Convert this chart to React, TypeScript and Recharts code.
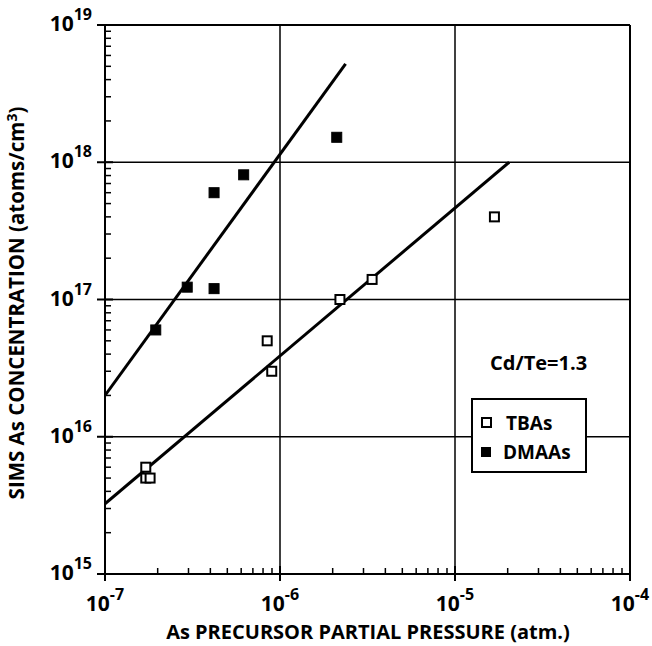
import React from 'react';
import { ComposedChart, Scatter, XAxis, YAxis, ReferenceLine, Legend, Customized } from 'recharts';

// TBAs measurements (open squares)
const tbasPressure = [1.71e-7, 1.71e-7, 1.81e-7, 8.45e-7, 8.97e-7, 2.2e-6, 3.36e-6, 1.68e-5];
const tbasConc = [6.0e15, 5.0e15, 5.0e15, 5.0e16, 3.0e16, 1.0e17, 1.4e17, 4.0e17];

// DMAAs measurements (filled squares)
const dmaasPressure = [1.95e-7, 2.95e-7, 4.2e-7, 4.2e-7, 6.2e-7, 2.11e-6];
const dmaasConc = [6.0e16, 1.23e17, 1.2e17, 6.0e17, 8.1e17, 1.52e18];

// fitted lines (end points)
const tbasFitPressure = [1e-7, 2.04e-5];
const tbasFitConc = [3.25e15, 1.0e18];
const dmaasFitPressure = [1e-7, 2.37e-6];
const dmaasFitConc = [2.0e16, 5.2e18];

// axis ticks
const xDecades = [-7, -6, -5, -4];
const yDecades = [15, 16, 17, 18, 19];
const minorMultipliers = [2, 3, 4, 5, 6, 7, 8, 9];

const FONT = "'Open Sans', 'DejaVu Sans', sans-serif";

const zip = (xs: number[], ys: number[]) => xs.map((p, i) => ({ p, c: ys[i] }));
const tbasData = zip(tbasPressure, tbasConc);
const dmaasData = zip(dmaasPressure, dmaasConc);
const tbasFit = zip(tbasFitPressure, tbasFitConc);
const dmaasFit = zip(dmaasFitPressure, dmaasFitConc);

const buildTicks = (decades: number[]) => {
  const out: number[] = [];
  decades.forEach((d, i) => {
    out.push(Math.pow(10, d));
    if (i < decades.length - 1) minorMultipliers.forEach((m) => out.push(m * Math.pow(10, d)));
  });
  return out;
};
const xTicks = buildTicks(xDecades);
const yTicks = buildTicks(yDecades);

const isMajor = (v: number) => {
  const l = Math.log10(v);
  return Math.abs(l - Math.round(l)) < 1e-6;
};

const XTick = (props: any) => {
  const { x, y, payload } = props;
  const v = payload.value;
  if (isMajor(v)) {
    const e = Math.round(Math.log10(v));
    return (
      <g>
        <line x1={x} y1={y - 8} x2={x} y2={y + 7} stroke="#000" strokeWidth={2} />
        <text x={x} y={y + 37} textAnchor="middle" fontFamily={FONT} fontWeight={700} fontSize={21} fill="#000">
          <tspan>10</tspan>
          <tspan dy={-11} fontSize={16}>{e}</tspan>
        </text>
      </g>
    );
  }
  return <line x1={x} y1={y} x2={x} y2={y - 6} stroke="#000" strokeWidth={1.5} />;
};

const YTick = (props: any) => {
  const { x, y, payload } = props;
  const v = payload.value;
  if (isMajor(v)) {
    const e = Math.round(Math.log10(v));
    return (
      <g>
        <line x1={x - 8} y1={y} x2={x + 8} y2={y} stroke="#000" strokeWidth={2} />
        <text x={x - 13} y={y + 6} textAnchor="end" fontFamily={FONT} fontWeight={700} fontSize={21} fill="#000">
          <tspan>10</tspan>
          <tspan dy={-11} fontSize={16}>{e}</tspan>
        </text>
      </g>
    );
  }
  return <line x1={x} y1={y} x2={x + 6} y2={y} stroke="#000" strokeWidth={1.5} />;
};

const OpenSquare = (props: any) => {
  const { cx, cy } = props;
  if (cx == null || cy == null) return <g />;
  return <rect x={cx - 4.5} y={cy - 4.5} width={9} height={9} fill="#fff" stroke="#000" strokeWidth={2} />;
};
const FilledSquare = (props: any) => {
  const { cx, cy } = props;
  if (cx == null || cy == null) return <g />;
  return <rect x={cx - 5} y={cy - 5} width={10} height={10} fill="#000" stroke="#000" strokeWidth={1} />;
};
const NoShape = () => <g />;

const LegendBox = () => (
  <div
    style={{
      width: 116,
      height: 75,
      boxSizing: 'border-box',
      border: '2px solid #000',
      background: '#fff',
      fontFamily: FONT,
      fontWeight: 700,
      fontSize: 19,
      color: '#000',
      paddingTop: 8,
      paddingLeft: 8,
      lineHeight: '28px',
    }}
  >
    <div style={{ display: 'flex', alignItems: 'center', height: 29 }}>
      <span style={{ display: 'inline-block', width: 7, height: 7, border: '2px solid #000', background: '#fff', marginRight: 14 }} />
      <span>TBAs</span>
    </div>
    <div style={{ display: 'flex', alignItems: 'center', height: 29 }}>
      <span style={{ display: 'inline-block', width: 10, height: 10, background: '#000', marginRight: 12 }} />
      <span>DMAAs</span>
    </div>
  </div>
);

const Titles = () => (
  <g>
    <text x={368} y={639} textAnchor="middle" fontFamily={FONT} fontWeight={700} fontSize={20} fill="#000">
      As PRECURSOR PARTIAL PRESSURE (atm.)
    </text>
    <text transform="translate(24,303) rotate(-90)" textAnchor="middle" fontFamily={FONT} fontWeight={700} fontSize={20.5} fill="#000">
      <tspan>SIMS As CONCENTRATION (atoms/cm</tspan>
      <tspan dy={-7} fontSize={14}>3</tspan>
      <tspan dy={7}>)</tspan>
    </text>
    <text x={490} y={370} textAnchor="start" fontFamily={FONT} fontWeight={700} fontSize={20} fill="#000">
      Cd/Te=1.3
    </text>
  </g>
);

export default function App() {
  return (
    <div style={{ position: 'absolute', left: 0, top: 0, width: 652, height: 646, background: '#fff' }}>
      <ComposedChart width={652} height={646} margin={{ top: 25, right: 22, bottom: 22, left: 45 }}>
        <XAxis
          type="number"
          dataKey="p"
          scale="log"
          domain={[1e-7, 1e-4]}
          ticks={xTicks}
          interval={0}
          tick={<XTick />}
          tickLine={false}
          tickSize={0}
          tickMargin={0}
          axisLine={{ stroke: '#000', strokeWidth: 2 }}
          allowDataOverflow
          height={50}
        />
        <YAxis
          type="number"
          dataKey="c"
          scale="log"
          domain={[1e15, 1e19]}
          ticks={yTicks}
          interval={0}
          tick={<YTick />}
          tickLine={false}
          tickSize={0}
          tickMargin={0}
          axisLine={{ stroke: '#000', strokeWidth: 2 }}
          allowDataOverflow
          width={60}
        />
        <ReferenceLine x={1e-6} stroke="#000" strokeWidth={1.5} />
        <ReferenceLine x={1e-5} stroke="#000" strokeWidth={1.5} />
        <ReferenceLine x={1e-4} stroke="#000" strokeWidth={2} />
        <ReferenceLine y={1e16} stroke="#000" strokeWidth={1.5} />
        <ReferenceLine y={1e17} stroke="#000" strokeWidth={1.5} />
        <ReferenceLine y={1e18} stroke="#000" strokeWidth={1.5} />
        <ReferenceLine y={1e19} stroke="#000" strokeWidth={2} />
        <Scatter name="TBAs fit" data={tbasFit} dataKey="c" line={{ stroke: '#000', strokeWidth: 3 }} shape={<NoShape />} legendType="none" isAnimationActive={false} />
        <Scatter name="DMAAs fit" data={dmaasFit} dataKey="c" line={{ stroke: '#000', strokeWidth: 3 }} shape={<NoShape />} legendType="none" isAnimationActive={false} />
        <Scatter name="TBAs" data={tbasData} dataKey="c" shape={<OpenSquare />} isAnimationActive={false} />
        <Scatter name="DMAAs" data={dmaasData} dataKey="c" shape={<FilledSquare />} isAnimationActive={false} />
        <Legend
          layout="horizontal"
          verticalAlign="middle"
          align="center"
          content={<LegendBox />}
          wrapperStyle={{ position: 'absolute', left: 471, top: 398, width: 116, height: 75, right: 'auto', bottom: 'auto' }}
        />
        <Customized component={<Titles />} />
      </ComposedChart>
    </div>
  );
}
